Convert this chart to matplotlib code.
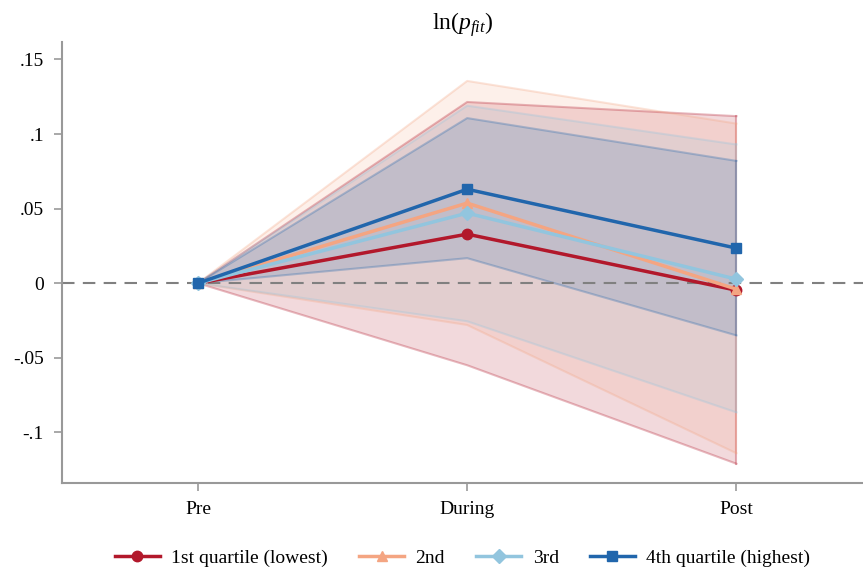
import matplotlib
matplotlib.use("Agg")
import matplotlib.pyplot as plt
from matplotlib.lines import Line2D

plt.rcParams['font.family'] = ['Liberation Serif', 'DejaVu Serif']
plt.rcParams['mathtext.fontset'] = 'custom'
plt.rcParams['mathtext.rm'] = 'Liberation Serif'
plt.rcParams['mathtext.it'] = 'Liberation Serif:italic'

periods = ["Pre", "During", "Post"]
series = ["1st quartile (lowest)", "2nd", "3rd", "4th quartile (highest)"]
colors = ["#b2182b", "#f4a582", "#92c5de", "#2166ac"]
markers = ["o", "^", "D", "s"]

est_q1 = [0.0, 0.0329, -0.0047]
est_q2 = [0.0, 0.0537, -0.0040]
est_q3 = [0.0, 0.0470, 0.0027]
est_q4 = [0.0, 0.0630, 0.0235]

lo_q1 = [0.0, -0.0550, -0.1210]
lo_q2 = [0.0, -0.0280, -0.1140]
lo_q3 = [0.0, -0.0255, -0.0866]
lo_q4 = [0.0, 0.0168, -0.0350]

hi_q1 = [0.0, 0.1215, 0.1120]
hi_q2 = [0.0, 0.1356, 0.1070]
hi_q3 = [0.0, 0.1190, 0.0930]
hi_q4 = [0.0, 0.1107, 0.0820]

ests = [est_q1, est_q2, est_q3, est_q4]
los = [lo_q1, lo_q2, lo_q3, lo_q4]
his = [hi_q1, hi_q2, hi_q3, hi_q4]

yticks = [-0.1, -0.05, 0, 0.05, 0.1, 0.15]
yticklabels = ["-.1", "-.05", "0", ".05", ".1", ".15"]

fig = plt.figure(figsize=(8.63, 5.74), dpi=100)
ax = fig.add_axes([0.0718, 0.1594, 0.9282, 0.7674])

x = list(range(len(periods)))
for lo, hi, c in zip(los, his, colors):
    ax.fill_between(x, lo, hi, facecolor=c, alpha=0.16, edgecolor='none', zorder=1)
    ax.plot(x, lo, color=c, alpha=0.3, lw=1.5, zorder=1.5)
    ax.plot(x, hi, color=c, alpha=0.3, lw=1.5, zorder=1.5)
    ax.plot([x[-1], x[-1]], [lo[-1], hi[-1]], color=c, alpha=0.3, lw=1.5, zorder=1.5)

ax.axhline(0, color='#808080', lw=1.5, ls=(0, (6, 4)), zorder=2)

handles = []
for est, c, m, lab in zip(ests, colors, markers, series):
    ax.plot(x, est, color=c, lw=2.5, marker=m, markersize=7.5, zorder=3)
    handles.append(Line2D([], [], color=c, lw=2.5, marker=m, markersize=7.5, label=lab))

ax.set_xlim(-0.505, 2.47)
ax.set_ylim(-0.1336, 0.1617)
ax.set_xticks(x)
ax.set_xticklabels(periods, fontsize=14)
ax.set_yticks(yticks)
ax.set_yticklabels(yticklabels, fontsize=14)
for s in ['top', 'right']:
    ax.spines[s].set_visible(False)
for s in ['left', 'bottom']:
    ax.spines[s].set_color('#999999')
    ax.spines[s].set_linewidth(1.5)
ax.tick_params(axis='both', color='#999999', width=1.2, length=6, pad=7)

ax.set_title(r'ln$(p_{fit})$', fontsize=17, pad=9)

fig.legend(handles=handles, loc='center', bbox_to_anchor=(0.536, 0.027), ncol=4,
           frameon=False, fontsize=14, handlelength=2.3, columnspacing=1.6, handletextpad=0.6)

fig.savefig("out.png", dpi=100)
